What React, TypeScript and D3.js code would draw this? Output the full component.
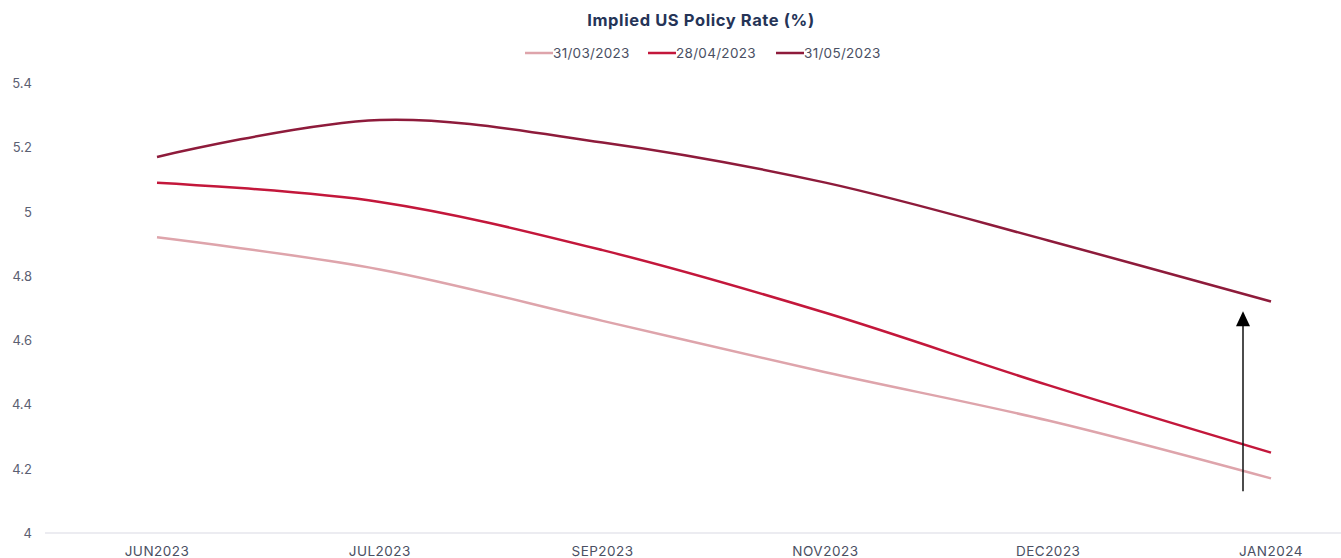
import { useEffect, useRef } from 'react';
import * as d3 from 'd3';

// Chart data
const months = ['JUN2023', 'JUL2023', 'SEP2023', 'NOV2023', 'DEC2023', 'JAN2024'];
const seriesNames = ['31/03/2023', '28/04/2023', '31/05/2023'];
const march = [4.92, 4.82, 4.66, 4.5, 4.35, 4.17];
const april = [5.09, 5.03, 4.88, 4.685, 4.46, 4.25];
const may = [5.17, 5.285, 5.215, 5.09, 4.91, 4.72];
const yTicks = [4, 4.2, 4.4, 4.6, 4.8, 5, 5.2, 5.4];

const colors = ['#dea4ab', '#c3173b', '#8e1b3b'];

export default function App() {
  const ref = useRef<SVGSVGElement>(null);

  useEffect(() => {
    document.body.style.margin = '0';
    const width = 1341;
    const svg = d3.select(ref.current);
    svg.selectAll('*').remove();

    const font = 'Inter, "Open Sans", sans-serif';

    const x = d3.scalePoint<string>().domain(months).range([157, 1271]);
    const y = d3.scaleLinear().domain([4, 5.4]).range([533, 83]);

    // Title
    svg
      .append('text')
      .attr('x', 701)
      .attr('y', 26)
      .attr('text-anchor', 'middle')
      .attr('font-family', font)
      .attr('font-weight', 700)
      .attr('font-size', 16.5)
      .attr('letter-spacing', 0.6)
      .attr('fill', '#253457')
      .text('Implied US Policy Rate (%)');

    // Legend
    const legendX = [525, 648, 776];
    seriesNames.forEach((name, i) => {
      const g = svg.append('g').attr('transform', `translate(${legendX[i]},53)`);
      g.append('line')
        .attr('x1', 0)
        .attr('x2', 28)
        .attr('stroke', colors[i])
        .attr('stroke-width', 2.5);
      g.append('text')
        .attr('x', 28)
        .attr('y', 5)
        .attr('font-family', font)
        .attr('font-size', 13.5)
        .attr('letter-spacing', 0.3)
        .attr('fill', '#4a4f63')
        .text(name);
    });

    // Baseline
    svg
      .append('line')
      .attr('x1', 45)
      .attr('x2', width)
      .attr('y1', y(4))
      .attr('y2', y(4))
      .attr('stroke', '#e6e6ec')
      .attr('stroke-width', 1.5);

    // Y axis labels
    svg
      .append('g')
      .selectAll('text')
      .data(yTicks)
      .join('text')
      .attr('x', 32)
      .attr('y', d => y(d) + 5)
      .attr('text-anchor', 'end')
      .attr('font-family', font)
      .attr('font-size', 13)
      .attr('fill', '#5b6072')
      .text(d => d3.format('~g')(d));

    // X axis labels
    svg
      .append('g')
      .selectAll('text')
      .data(months)
      .join('text')
      .attr('x', d => x(d) ?? 0)
      .attr('y', 556)
      .attr('text-anchor', 'middle')
      .attr('font-family', font)
      .attr('font-size', 13.5)
      .attr('letter-spacing', 0.5)
      .attr('fill', '#4a4f63')
      .text(d => d);

    // Lines
    const line = d3
      .line<number>()
      .x((_, i) => x(months[i]) ?? 0)
      .y(d => y(d))
      .curve(d3.curveCatmullRom.alpha(0.5));

    [march, april, may].forEach((values, i) => {
      svg
        .append('path')
        .datum(values)
        .attr('fill', 'none')
        .attr('stroke', colors[i])
        .attr('stroke-width', 2.5)
        .attr('d', line);
    });

    // Arrow annotation
    const ax = (x('JAN2024') ?? 0) - 28;
    const tip = y(4.69);
    svg
      .append('line')
      .attr('x1', ax)
      .attr('x2', ax)
      .attr('y1', y(4.13))
      .attr('y2', tip + 14)
      .attr('stroke', '#111')
      .attr('stroke-width', 1.5);
    svg
      .append('path')
      .attr('d', `M${ax},${tip} L${ax - 7},${tip + 15} L${ax + 7},${tip + 15} Z`)
      .attr('fill', '#000');
  }, []);

  return (
    <svg
      ref={ref}
      width={1341}
      height={558}
      style={{ display: 'block', background: '#fff' }}
    />
  );
}
